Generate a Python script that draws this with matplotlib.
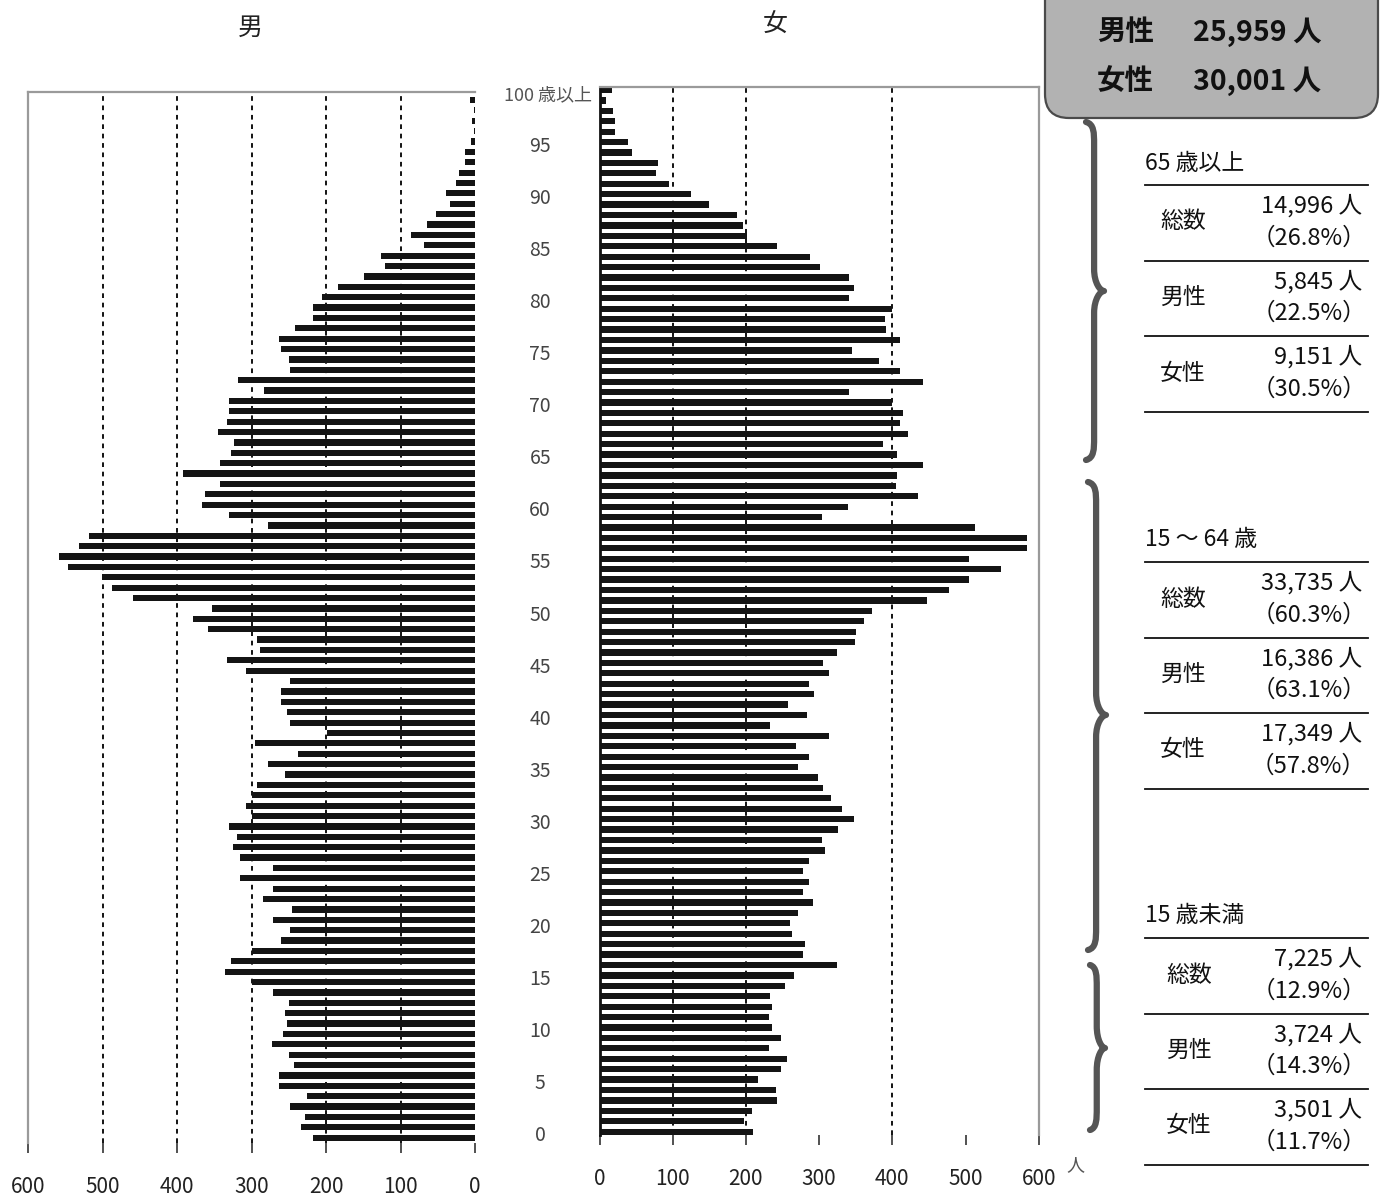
import matplotlib
matplotlib.use('Agg')
import matplotlib.pyplot as plt
from matplotlib.path import Path
from matplotlib.patches import PathPatch, FancyBboxPatch
import matplotlib.transforms as mtrans

plt.rcParams['font.family'] = ['Noto Sans CJK JP', 'DejaVu Sans']

# ---------------- data ----------------
ages = list(range(0, 101))
male = [218, 233, 228, 248, 225, 263, 263, 243, 250, 273,
        258, 253, 255, 250, 271, 300, 335, 328, 300, 261,
        248, 271, 246, 285, 271, 315, 271, 315, 325, 320,
        330, 300, 308, 300, 293, 255, 278, 238, 295, 199,
        248, 253, 261, 261, 248, 308, 333, 288, 293, 358,
        378, 353, 459, 487, 501, 546, 559, 531, 518, 278,
        330, 367, 362, 342, 392, 342, 327, 323, 345, 333,
        330, 330, 283, 318, 248, 250, 261, 263, 241, 218,
        218, 205, 184, 149, 121, 126, 69, 86, 64, 52,
        34, 39, 25, 21, 14, 14, 5, 2, 4, 2,
        7]
female = [210, 198, 208, 243, 241, 216, 248, 256, 231, 248,
          236, 231, 236, 233, 253, 266, 324, 278, 281, 263,
          260, 271, 291, 278, 286, 278, 286, 308, 304, 326,
          347, 331, 316, 306, 298, 271, 286, 268, 314, 233,
          283, 258, 293, 286, 314, 306, 324, 349, 351, 362,
          372, 447, 478, 505, 548, 505, 584, 584, 513, 304,
          339, 435, 405, 407, 442, 407, 387, 422, 410, 415,
          399, 341, 442, 410, 382, 345, 410, 391, 390, 399,
          341, 347, 341, 301, 288, 243, 202, 196, 188, 150,
          125, 95, 77, 80, 44, 39, 21, 21, 19, 9,
          17]

ticks_left = [600, 500, 400, 300, 200, 100, 0]
ticks_right = [0, 100, 200, 300, 400, 500, 600]
grid_left = [500, 400, 300, 200, 100]
grid_right = [100, 200, 400]
age_label_ages = list(range(95, -1, -5))
age_top_label = "100 歳以上"

title_male = "男"
title_female = "女"
total_labels = ["男性", "女性"]
total_values = ["25,959 人", "30,001 人"]

group_titles = ["65 歳以上", "15 ～ 64 歳", "15 歳未満"]
row_names = ["総数", "男性", "女性"]
group_counts = [["14,996 人", "5,845 人", "9,151 人"],
                ["33,735 人", "16,386 人", "17,349 人"],
                ["7,225 人", "3,724 人", "3,501 人"]]
group_pcts = [["（26.8%）", "（22.5%）", "（30.5%）"],
              ["（60.3%）", "（63.1%）", "（57.8%）"],
              ["（12.9%）", "（14.3%）", "（11.7%）"]]

# ---------------- figure ----------------
W, H = 1380, 1198
fig = plt.figure(figsize=(W / 100, H / 100), dpi=100)
fig.patch.set_facecolor('white')


def rect(x0, y0, x1, y1):
    return [x0 / W, 1 - y1 / H, (x1 - x0) / W, (y1 - y0) / H]


bar_color = '#141414'
tick_kw = dict(axis='x', direction='out', length=7, width=1.2, color='#333333',
               labelsize=15, labelcolor='#222222', pad=17)

# left (male)
axL = fig.add_axes(rect(28, 92, 475, 1143))
for g in grid_left:
    axL.axvline(g, color='black', lw=1.3, linestyle=(0, (2.6, 2.6)), zorder=0)
axL.barh(ages, male, height=0.6, color=bar_color, zorder=2)
axL.set_xlim(600, 0)
axL.set_ylim(-0.51, 100.77)
axL.set_yticks([])
axL.set_xticks(ticks_left)
axL.set_xticklabels([str(t) for t in ticks_left])
axL.tick_params(**tick_kw)
for s in ['right', 'bottom']:
    axL.spines[s].set_visible(False)
for s in ['top', 'left']:
    axL.spines[s].set_color('#9a9a9a')
    axL.spines[s].set_linewidth(1.6)

# right (female)
axR = fig.add_axes(rect(599.5, 87, 1038.7, 1135))
for g in grid_right:
    axR.axvline(g, color='black', lw=1.3, linestyle=(0, (2.6, 2.6)), zorder=0)
axR.barh(ages, female, height=0.6, color=bar_color, zorder=2)
axR.set_xlim(0, 600)
axR.set_ylim(-0.32, 100.29)
axR.set_yticks([])
axR.set_xticks(ticks_right)
axR.set_xticklabels([str(t) for t in ticks_right])
axR.tick_params(**tick_kw)
axR.spines['bottom'].set_visible(False)
for s in ['top', 'right']:
    axR.spines[s].set_color('#9a9a9a')
    axR.spines[s].set_linewidth(1.6)
axR.spines['left'].set_color('#111111')
axR.spines['left'].set_linewidth(2.0)

# age labels between panels
blend = mtrans.blended_transform_factory(axR.transAxes, axR.transData)
for a in age_label_ages:
    axR.text(-0.135, a - 0.4, str(a), transform=blend, ha='center', va='center',
             fontsize=14, color='#444444', clip_on=False)
axR.text(-0.016, 99.5, age_top_label, transform=blend, ha='right', va='center',
         fontsize=13, color='#555555', clip_on=False)

# ---------------- overlay (pixel coordinates) ----------------
ov = fig.add_axes([0, 0, 1, 1], zorder=5)
ov.set_xlim(0, W)
ov.set_ylim(H, 0)
ov.axis('off')
ov.patch.set_alpha(0)

ov.text(250, 28, title_male, ha='center', va='center', fontsize=18, color='#222222')
ov.text(775, 25, title_female, ha='center', va='center', fontsize=18, color='#222222')
ov.text(1075, 1165, "人", ha='center', va='center', fontsize=13, color='#555555')

# total box
box = FancyBboxPatch((1045, -40), 333, 158, boxstyle='round,pad=0,rounding_size=24',
                     facecolor='#b2b2b2', edgecolor='#4a4a4a', lw=1.6)
ov.add_patch(box)
for i, (lab, val) in enumerate(zip(total_labels, total_values)):
    y = 32 + i * 49
    ov.text(1097, y, lab, ha='left', va='center', fontsize=20.5, fontweight='bold', color='#111111')
    ov.text(1193, y, val, ha='left', va='center', fontsize=20.5, fontweight='bold', color='#111111')


# braces
def brace(ytop, ybot, ytip, x0, w, d=22):
    s = x0 + w * 0.45
    tip = x0 + w
    verts = [(x0, ytop),
             (s, ytop + 2), (s, ytop + d * 0.5), (s, ytop + d),
             (s, ytip - d),
             (s, ytip - d * 0.35), (tip - w * 0.2, ytip), (tip, ytip),
             (tip - w * 0.2, ytip), (s, ytip + d * 0.35), (s, ytip + d),
             (s, ybot - d),
             (s, ybot - d * 0.5), (s, ybot - 2), (x0, ybot)]
    codes = [Path.MOVETO,
             Path.CURVE4, Path.CURVE4, Path.CURVE4,
             Path.LINETO,
             Path.CURVE4, Path.CURVE4, Path.CURVE4,
             Path.CURVE4, Path.CURVE4, Path.CURVE4,
             Path.LINETO,
             Path.CURVE4, Path.CURVE4, Path.CURVE4]
    ov.add_patch(PathPatch(Path(verts, codes), facecolor='none', edgecolor='#555555',
                           lw=4.5, capstyle='round', joinstyle='round'))


brace(122, 460, 291, 1086, 18)
brace(482, 950, 715, 1088, 18)
brace(965, 1130, 1048, 1090, 15)

# tables
group_top = [163, 540, 916]
for gi in range(3):
    yt = group_top[gi]
    ov.text(1145, yt, group_titles[gi], ha='left', va='center', fontsize=16.5, color='#111111')
    ov.plot([1145, 1368], [yt + 22, yt + 22], color='#111111', lw=1.3)
    for r in range(3):
        y0 = yt + 22 + r * 75.5
        name_x = 1183 if gi < 2 else 1189
        ov.text(name_x, y0 + 37, row_names[r], ha='center', va='center', fontsize=16.5, color='#111111')
        ov.text(1362, y0 + 21, group_counts[gi][r], ha='right', va='center', fontsize=17, color='#111111')
        ov.text(1366, y0 + 53, group_pcts[gi][r], ha='right', va='center', fontsize=17, color='#111111')
        ov.plot([1145, 1368], [y0 + 75.5, y0 + 75.5], color='#111111', lw=1.3)

fig.savefig('out.png', dpi=100)
